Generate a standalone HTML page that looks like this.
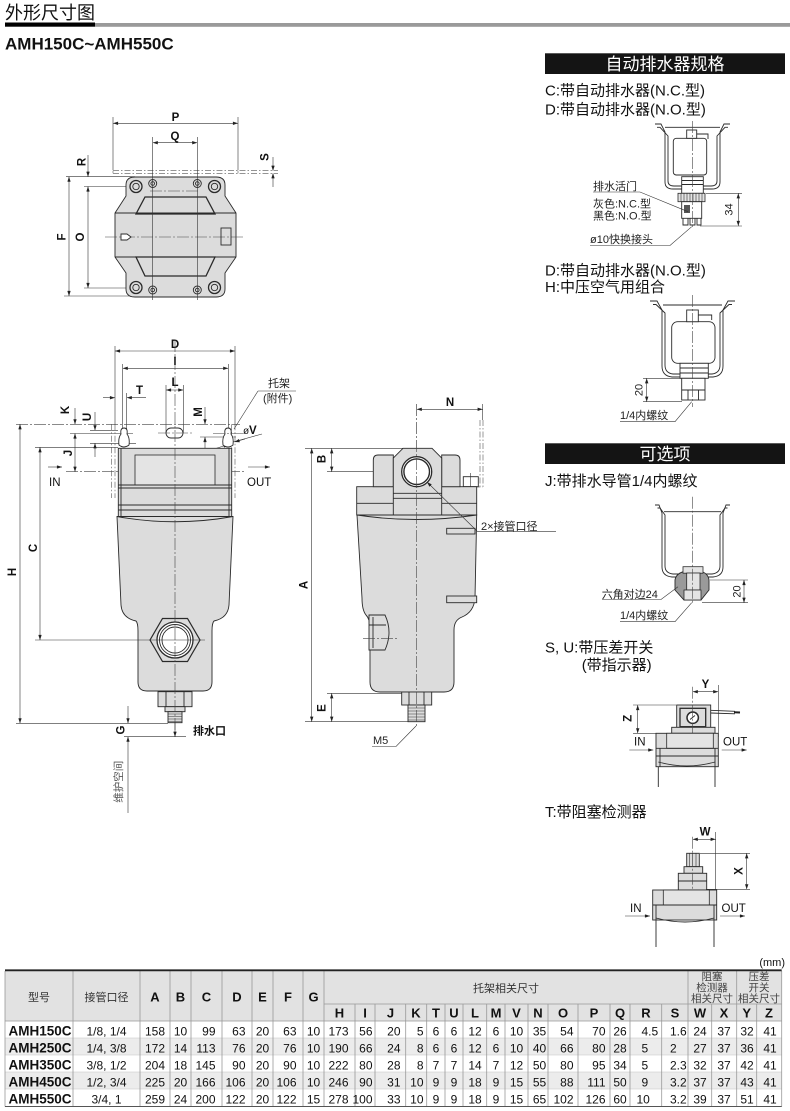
<!DOCTYPE html>
<html><head><meta charset="utf-8"><style>
html,body{margin:0;padding:0;background:#fff;}
body{width:790px;height:1111px;overflow:hidden;}
svg{display:block;}
</style></head><body>
<svg width="790" height="1111" viewBox="0 0 790 1111" xmlns="http://www.w3.org/2000/svg">
<defs>
<marker id="m" viewBox="0 0 6 4" refX="6" refY="2" markerWidth="5.5" markerHeight="3.4" orient="auto-start-reverse" markerUnits="userSpaceOnUse"><path d="M0,0L6,2L0,4z" fill="#222"/></marker>
</defs>
<style>
.g{fill:#dcdcdc;stroke:#2a2a2a;stroke-width:.9}
.g2{fill:#e4e4e4;stroke:#2a2a2a;stroke-width:.8}
.w{fill:#fff;stroke:#2a2a2a;stroke-width:.9}
.n{fill:none;stroke:#2a2a2a;stroke-width:.9}
.d{fill:none;stroke:#333;stroke-width:.6}
.a{fill:none;stroke:#333;stroke-width:.6;marker-start:url(#m);marker-end:url(#m)}
.e{fill:none;stroke:#333;stroke-width:.6;marker-end:url(#m)}
.c{fill:none;stroke:#444;stroke-width:.6;stroke-dasharray:12 2 2 2}
.ph{fill:none;stroke:#555;stroke-width:.6;stroke-dasharray:6 2 1.5 2}
text{font-family:"Liberation Sans","Noto Sans CJK SC",sans-serif;fill:#111}
.L{font-weight:bold;font-size:11.5px}
.s{font-size:11px;fill:#222}
.big{font-size:15px}
.tn{font-size:12px}
.tb{font-size:13px;font-weight:bold}
.th{font-size:11px;fill:#333}
.ts{font-size:10.5px;fill:#444}
</style>

<!-- Header -->
<text x="5" y="19" style="font-size:18px">外形尺寸图</text>
<rect x="5" y="22.5" width="90" height="4.2" fill="#000"/>
<rect x="95" y="23" width="695" height="3.8" fill="#9a9a9a"/>
<text x="5" y="49.5" style="font-size:17px;font-weight:bold">AMH150C~AMH550C</text>

<!-- ===== Top bracket view ===== -->
<line class="d" x1="113" y1="117" x2="113" y2="170"/>
<line class="d" x1="238" y1="117" x2="238" y2="170"/>
<line class="a" x1="113" y1="123.3" x2="238" y2="123.3"/>
<text class="L" x="175.5" y="121" text-anchor="middle">P</text>
<line class="a" x1="152.7" y1="142.7" x2="197.3" y2="142.7"/>
<text class="L" x="175" y="140" text-anchor="middle">Q</text>
<path class="ph" d="M113,170.7H278M113,173.3H278M113,170.7V173.3M238,170.7V173.3"/>
<line class="e" x1="273" y1="157" x2="273" y2="170.7"/>
<line class="e" x1="273" y1="187" x2="273" y2="173.3"/>
<text class="L" transform="translate(264.5,157) rotate(-90)" y="4" text-anchor="middle">S</text>
<line class="d" x1="66" y1="176.7" x2="135" y2="176.7"/>
<line class="d" x1="84" y1="186.5" x2="131" y2="186.5"/>
<line class="d" x1="84" y1="288" x2="131" y2="288"/>
<line class="d" x1="64" y1="296" x2="131" y2="296"/>
<line class="e" x1="88" y1="155" x2="88" y2="176.7"/>
<line class="a" x1="88" y1="186.5" x2="88" y2="288"/>
<line class="a" x1="69" y1="176.7" x2="69" y2="296"/>
<text class="L" transform="translate(81.5,162) rotate(-90)" y="4" text-anchor="middle">R</text>
<text class="L" transform="translate(80,237) rotate(-90)" y="4" text-anchor="middle">O</text>
<text class="L" transform="translate(61.5,237) rotate(-90)" y="4" text-anchor="middle">F</text>
<path class="g" d="M126,185 Q126,177 135,177 L216,177 Q225,177 225,185 L225,196 L236,213 L236,257 L225,273 L225,289 Q225,297 216,297 L135,297 Q126,297 126,289 L126,273 L115,257 L115,213 L126,196 Z"/>
<path class="n" d="M145,197 L206,197 L215,214 L136,214 Z" style="stroke-width:1.3"/>
<path class="n" d="M136,257 L215,257 L206,276 L145,276 Z" style="stroke-width:1.3"/>
<path class="n" d="M115,213H236M115,257H236"/>
<line class="c" x1="105" y1="237" x2="244" y2="237"/>
<line class="c" x1="150" y1="191" x2="200" y2="191"/>
<path class="w" d="M121,234 L127,234 L131,237 L127,240 L121,240 Z"/>
<rect class="n" x="221" y="228" width="10" height="17"/>
<g>
<circle class="g" cx="136" cy="186.5" r="6" style="stroke-width:1.3"/><circle class="n" cx="136" cy="186.5" r="3.2"/>
<circle class="g" cx="214.5" cy="186.5" r="6" style="stroke-width:1.3"/><circle class="n" cx="214.5" cy="186.5" r="3.2"/>
<circle class="g" cx="136" cy="287.5" r="6" style="stroke-width:1.3"/><circle class="n" cx="136" cy="287.5" r="3.2"/>
<circle class="g" cx="214.5" cy="287.5" r="6" style="stroke-width:1.3"/><circle class="n" cx="214.5" cy="287.5" r="3.2"/>
<circle class="g" cx="152.7" cy="183.5" r="4"/><circle class="n" cx="152.7" cy="183.5" r="1.8"/>
<circle class="g" cx="197.3" cy="183.5" r="4"/><circle class="n" cx="197.3" cy="183.5" r="1.8"/>
<circle class="g" cx="152.7" cy="290" r="4"/><circle class="n" cx="152.7" cy="290" r="1.8"/>
<circle class="g" cx="197.3" cy="290" r="4"/><circle class="n" cx="197.3" cy="290" r="1.8"/>
</g>
<line class="d" x1="152.7" y1="137" x2="152.7" y2="300"/>
<line class="d" x1="197.3" y1="137" x2="197.3" y2="300"/>

<!-- ===== Front view ===== -->
<line class="d" x1="115" y1="346" x2="115" y2="425"/>
<line class="d" x1="235" y1="346" x2="235" y2="425"/>
<line class="a" x1="115" y1="351" x2="235" y2="351"/>
<text class="L" x="175" y="348" text-anchor="middle">D</text>
<line class="d" x1="122.7" y1="364" x2="122.7" y2="440"/>
<line class="d" x1="228.3" y1="364" x2="228.3" y2="440"/>
<line class="a" x1="122.7" y1="368.3" x2="228.3" y2="368.3"/>
<text class="L" x="175" y="365" text-anchor="middle">I</text>
<line class="d" x1="166" y1="385" x2="166" y2="433"/>
<line class="d" x1="183.3" y1="385" x2="183.3" y2="433"/>
<line class="a" x1="166" y1="390" x2="183.3" y2="390"/>
<text class="L" x="175" y="386" text-anchor="middle">L</text>
<line class="e" x1="103" y1="397.7" x2="115" y2="397.7"/>
<line class="e" x1="146" y1="397.7" x2="126.7" y2="397.7"/>
<text class="L" x="139.5" y="394" text-anchor="middle">T</text>
<line class="d" x1="126.7" y1="393" x2="126.7" y2="430"/>

<line class="c" x1="16" y1="424.3" x2="240" y2="424.3"/>
<line class="a" x1="20" y1="424.3" x2="20" y2="723.3"/>
<text class="L" transform="translate(12,572) rotate(-90)" y="4" text-anchor="middle">H</text>
<line class="d" x1="35" y1="447.3" x2="118" y2="447.3"/>
<line class="a" x1="40" y1="447.3" x2="40" y2="640"/>
<text class="L" transform="translate(33,548) rotate(-90)" y="4" text-anchor="middle">C</text>
<line class="d" x1="70" y1="433.5" x2="133" y2="433.5"/>
<line class="e" x1="75" y1="408" x2="75" y2="424.3"/>
<line class="a" x1="75" y1="433.5" x2="75" y2="471.7"/>
<text class="L" transform="translate(65,410) rotate(-90)" y="4" text-anchor="middle">K</text>
<text class="L" transform="translate(68,453) rotate(-90)" y="4" text-anchor="middle">J</text>
<line class="d" x1="90" y1="430.3" x2="118" y2="430.3"/>
<line class="d" x1="90" y1="443.3" x2="136" y2="443.3"/>
<line class="e" x1="95" y1="412" x2="95" y2="430.3"/>
<line class="e" x1="95" y1="457" x2="95" y2="443.3"/>
<text class="L" transform="translate(87,417) rotate(-90)" y="4" text-anchor="middle">U</text>
<line class="e" x1="205" y1="407" x2="205" y2="424.3"/>
<line class="e" x1="205" y1="455" x2="205" y2="437"/>
<line class="d" x1="200" y1="437" x2="236" y2="437"/>
<text class="L" transform="translate(198,412) rotate(-90)" y="4" text-anchor="middle">M</text>
<text x="243" y="434" style="font-size:10px">ø</text><text class="L" x="249" y="434">V</text>
<line class="d" x1="262" y1="434" x2="224" y2="444.5"/>
<line class="e" x1="214" y1="449" x2="228.5" y2="444.5"/>
<line class="e" x1="245" y1="439" x2="234.5" y2="442"/>
<text class="s" x="268" y="387">托架</text>
<text class="s" x="263" y="402">(附件)</text>
<line class="d" x1="258" y1="391" x2="296" y2="391"/>
<line class="d" x1="258" y1="391" x2="234" y2="429"/>
<line class="c" x1="66" y1="471.7" x2="244" y2="471.7"/>
<line class="e" x1="48" y1="467" x2="62" y2="467"/>
<text x="49" y="486" style="font-size:11.5px">IN</text>
<line class="e" x1="248" y1="467" x2="270" y2="467"/>
<text x="247" y="486" style="font-size:11.5px">OUT</text>

<!-- bracket phantom -->
<path class="ph" d="M111.7,424.3V498M115,424.3V498M231.7,424.3V498M235,424.3V498"/>
<path class="w" d="M119,445 Q118,438 121,434 Q120,428 124,428 Q128,428 127,434 Q130,438 129,445 Q124,449 119,445 Z"/>
<path class="w" d="M223,445 Q222,438 225,434 Q224,428 228,428 Q232,428 231,434 Q234,438 233,445 Q228,449 223,445 Z"/>
<rect class="w" x="166" y="428" width="17" height="10" rx="5"/>
<line class="c" x1="158" y1="433" x2="192" y2="433"/>
<line class="c" x1="213" y1="433.5" x2="243" y2="433.5"/>
<!-- head -->
<rect class="g" x="118.3" y="448.3" width="113.4" height="68.4"/>
<rect class="g2" x="135" y="455" width="80" height="30"/>
<path class="n" d="M118.3,485H231.7M118.3,488H231.7M118.3,505H231.7M118.3,510H231.7M121,448.3V516.7M229,448.3V516.7"/>
<path class="g" d="M117,516.5 L233,516.5 L229,605 Q228,618 214,621 Q212,623 212,631 L212,682 Q212,691 203,691 L147,691 Q138,691 138,682 L138,631 Q138,623 136,621 Q122,618 121,605 Z"/>
<path class="n" d="M117,516.5 Q175,527 233,516.5"/>
<polygon class="g" points="150,640 162.5,618.5 187.5,618.5 200,640 187.5,661.5 162.5,661.5" style="stroke-width:1.2"/>
<circle class="w" cx="175" cy="640" r="18" style="stroke-width:1.3"/>
<circle class="n" cx="175" cy="640" r="15.5"/>
<circle class="n" cx="175" cy="640" r="13"/>
<rect class="g" x="158" y="691.7" width="34" height="15"/>
<path class="n" d="M166,691.7V706.7M184,691.7V706.7"/>
<rect class="g" x="165" y="706.7" width="20" height="5"/>
<rect class="g" x="168" y="711.7" width="14" height="11"/>
<path class="d" d="M168,714H182M168,716.5H182M168,719H182M168,721.5H182"/>
<line class="c" x1="175" y1="340" x2="175" y2="737"/>
<line class="d" x1="35" y1="640" x2="205" y2="640"/>
<line class="d" x1="16" y1="723.3" x2="168" y2="723.3"/>
<line class="d" x1="124" y1="736.7" x2="186" y2="736.7"/>
<line class="e" x1="128" y1="706" x2="128" y2="723.3"/>
<line class="e" x1="128" y1="813" x2="128" y2="736.7"/>
<text class="L" transform="translate(120.5,730) rotate(-90)" y="4" text-anchor="middle">G</text>
<line class="e" x1="175" y1="722" x2="175" y2="736.7"/>
<text x="193" y="734.5" style="font-size:11px;font-weight:bold">排水口</text>
<text transform="translate(118,781.7) rotate(-90)" y="4" text-anchor="middle" style="font-size:10.5px;fill:#555">维护空间</text>

<!-- ===== Side view ===== -->
<line class="c" x1="416.7" y1="404" x2="416.7" y2="728"/>
<line class="a" x1="416.7" y1="409.3" x2="482.7" y2="409.3"/>
<line class="d" x1="482.7" y1="404" x2="482.7" y2="420"/>
<text class="L" x="450" y="406" text-anchor="middle">N</text>
<path class="ph" d="M480,420V487M483,420V487M463,487H483"/>
<rect class="n" x="463.3" y="476.7" width="15" height="10"/>
<line class="d" x1="470.5" y1="473" x2="470.5" y2="491"/>
<line class="d" x1="305" y1="448.3" x2="405" y2="448.3"/>
<line class="d" x1="327" y1="471.7" x2="436" y2="471.7"/>
<line class="a" x1="311.7" y1="448.3" x2="311.7" y2="721.7"/>
<text class="L" transform="translate(303.5,585) rotate(-90)" y="4" text-anchor="middle">A</text>
<line class="a" x1="331.7" y1="448.3" x2="331.7" y2="471.7"/>
<text class="L" transform="translate(321.5,459) rotate(-90)" y="4" text-anchor="middle">B</text>
<line class="d" x1="327" y1="693.3" x2="402" y2="693.3"/>
<line class="d" x1="305" y1="721.7" x2="410" y2="721.7"/>
<line class="a" x1="331.7" y1="693.3" x2="331.7" y2="721.7"/>
<text class="L" transform="translate(321.5,708) rotate(-90)" y="4" text-anchor="middle">E</text>
<!-- body -->
<rect class="g" x="356.7" y="486.7" width="120" height="28.3"/>
<line class="n" x1="356.7" y1="503.3" x2="476.7" y2="503.3"/>
<path class="g" d="M373.3,486.7 L373.3,460 Q373.3,455 378,455 L393.3,455 L393.3,486.7 Z"/>
<path class="g" d="M441.7,455 L455,455 Q460,455 460,460 L460,486.7 L441.7,486.7 Z"/>
<path class="g" d="M393.3,515 L393.3,458 L403,448.3 L432,448.3 L441.7,458 L441.7,515"/>
<path class="n" d="M393.3,493.3H441.7M393.3,498.3H441.7"/>
<circle class="w" cx="416.7" cy="471.7" r="15" style="stroke-width:1.3"/>
<circle class="n" cx="416.7" cy="471.7" r="12.8" style="stroke-width:1.4"/>
<path class="g" d="M357,515 L476.7,515 L475,598 Q474,612 462,617 Q454,620 454,630 L454,682 Q454,692 444,692 L380,692 Q370,692 370,682 L370,628 Q370,619 366,615 Q362,610 362,598 Z"/>
<path class="n" d="M357,515 Q416,524 476.7,515"/>
<path class="g" d="M369,615 L385,615 Q393,632 385,650 L369,650 Z"/>
<path class="n" d="M373,617V648M369,625H386"/>
<line class="c" x1="363" y1="638.3" x2="398" y2="638.3"/>
<rect class="g" x="446.7" y="528.3" width="28.3" height="5.7"/>
<rect class="g" x="446.7" y="596" width="30" height="6.7"/>
<rect class="g" x="401.7" y="692" width="30" height="13"/>
<path class="n" d="M409,692V705M424,692V705"/>
<rect class="g" x="408" y="705" width="17" height="16.7"/>
<path class="d" d="M408,708H425M408,711H425M408,714H425M408,717H425M408,720H425"/>
<line class="c" x1="416.7" y1="404" x2="416.7" y2="728"/>
<text class="s" x="373" y="744">M5</text>
<path class="d" d="M372,746.5H396L416,726"/>
<line class="e" x1="477" y1="531" x2="427" y2="482"/>
<line class="d" x1="477" y1="531.7" x2="556" y2="531.7"/>
<text class="s" x="481" y="530">2×接管口径</text>

<!-- ===== Right panel ===== -->
<rect x="545" y="53.3" width="240" height="20.7" fill="#141414"/>
<text x="665" y="70" text-anchor="middle" style="font-size:17px;fill:#fff">自动排水器规格</text>
<text class="big" x="545" y="95.5">C:带自动排水器(N.C.型)</text>
<text class="big" x="545" y="114.5">D:带自动排水器(N.O.型)</text>
<path class="n" d="M655,124 L661,124 L665,132 L665,182 Q665,189 673,189 L712,189 Q720,189 720,182 L720,132 L724,124 L730,124"/>
<path class="n" d="M657,127.3 L660,127.3 L668,136 L668,181 Q668,186 674,186 L711,186 Q717,186 717,181 L717,136 L725,127.3 L728,127.3"/>
<line class="n" x1="665" y1="127.3" x2="720" y2="127.3"/>
<rect class="w" x="673.3" y="138.3" width="33.4" height="36.7" rx="3"/>
<rect class="w" x="686.7" y="130" width="10" height="8.3"/>
<path class="n" d="M696.7,134H708V139"/>
<rect class="w" x="681.7" y="176.7" width="21.6" height="16.6"/>
<path class="n" d="M681.7,180.5H703.3M681.7,184.5H703.3"/>
<rect class="g2" x="678" y="193.3" width="27" height="8.4"/>
<path class="d" d="M681,193.3V201.7M684,193.3V201.7M687,193.3V201.7M690,193.3V201.7M693,193.3V201.7M696,193.3V201.7M699,193.3V201.7M702,193.3V201.7"/>
<rect class="w" x="681.7" y="201.7" width="20" height="16.6"/>
<rect x="684" y="205" width="6" height="8" fill="#555"/>
<path class="n" d="M683,218.3V225H688V218.3M690,218.3V225H695V218.3M697,218.3V225H701V218.3"/>
<line class="c" x1="692.7" y1="121" x2="692.7" y2="229"/>
<line class="d" x1="706" y1="193.3" x2="742" y2="193.3"/>
<line class="d" x1="700" y1="226" x2="742" y2="226"/>
<line class="a" x1="738.3" y1="193.3" x2="738.3" y2="226"/>
<text class="s" transform="translate(728.5,209.5) rotate(-90)" y="4" text-anchor="middle">34</text>
<text class="s" x="593" y="190">排水活门</text>
<path class="d" d="M593,192H640L688,211.7"/>
<text class="s" x="593" y="207.5">灰色:N.C.型</text>
<text class="s" x="593" y="219.5">黑色:N.O.型</text>
<text class="s" x="590" y="243">ø10快换接头</text>
<path class="d" d="M590,245.5H670L691.7,226.7"/>

<text class="big" x="545" y="275.5">D:带自动排水器(N.O.型)</text>
<text class="big" x="545" y="292">H:中压空气用组合</text>
<path class="n" d="M650,301 L657,301 L662,310 L662,366 Q662,376 672,377 L713,377 Q723,376 723,366 L723,310 L728,301 L735,301"/>
<path class="n" d="M653,304.5 L656,304.5 L665,313 L665,365 Q665,373 673,374 L712,374 Q720,373 720,365 L720,313 L729,304.5 L732,304.5"/>
<line class="n" x1="663" y1="305" x2="722" y2="305"/>
<rect class="w" x="671.7" y="321.7" width="43.3" height="41.6" rx="6"/>
<rect class="w" x="686.7" y="310" width="11.6" height="11.7"/>
<path class="n" d="M698.3,315H711.7V320"/>
<rect class="w" x="680" y="363.3" width="28.3" height="15"/>
<path class="n" d="M680,368H708.3M680,373H708.3"/>
<rect class="w" x="681.7" y="378.3" width="23.3" height="21.7"/>
<path class="n" d="M681.7,390H705M688,390V400M698.5,390V400"/>
<line class="c" x1="692.7" y1="295" x2="692.7" y2="407"/>
<line class="d" x1="643" y1="378.3" x2="682" y2="378.3"/>
<line class="d" x1="643" y1="401.7" x2="682" y2="401.7"/>
<line class="a" x1="646.7" y1="378.3" x2="646.7" y2="401.7"/>
<text class="s" transform="translate(638.5,390) rotate(-90)" y="4" text-anchor="middle">20</text>
<text class="s" x="620" y="419">1/4内螺纹</text>
<path class="d" d="M620,421.7H675L691.7,401.7"/>

<rect x="545" y="443.3" width="240" height="20.7" fill="#141414"/>
<text x="665" y="460" text-anchor="middle" style="font-size:17px;fill:#fff">可选项</text>
<text class="big" x="545" y="486">J:带排水导管1/4内螺纹</text>
<path class="n" d="M655,505 L659,505 L662,513 L662,567 Q662,576 672,577 L713,577 Q723,576 723,567 L723,513 L726,505 L730,505"/>
<path class="n" d="M657.5,508 L660,508 L665,515 L665,566 Q665,573 673,574 L712,574 Q720,573 720,566 L720,515 L725,508 L727.5,508"/>
<line class="n" x1="664" y1="511.7" x2="721" y2="511.7"/>
<path d="M675,580 Q676,573 686,571 L700,571 Q708,573 709,580 L709,590 L701,600 L684,600 L675,590 Z" fill="#9a9a9a" stroke="#2a2a2a" stroke-width=".9"/>
<rect class="g2" x="683" y="566.7" width="20" height="6.5"/>
<rect class="g2" x="686.7" y="573" width="13.3" height="17"/>
<rect class="g2" x="684" y="590" width="17" height="10"/>
<line class="c" x1="692.7" y1="496.7" x2="692.7" y2="604"/>
<line class="d" x1="710" y1="580" x2="748" y2="580"/>
<line class="d" x1="702" y1="602.7" x2="748" y2="602.7"/>
<line class="a" x1="744" y1="580" x2="744" y2="602.7"/>
<text class="s" transform="translate(736.5,591.5) rotate(-90)" y="4" text-anchor="middle">20</text>
<text class="s" x="601.7" y="598">六角对边24</text>
<path class="d" d="M602,599.5H661L678,586.7"/>
<text class="s" x="620" y="619">1/4内螺纹</text>
<path class="d" d="M620,621.7H675L691.7,602.7"/>

<text class="big" x="545" y="652.5">S, U:带压差开关</text>
<text class="big" x="581.7" y="670">(带指示器)</text>
<line class="a" x1="692.7" y1="691.7" x2="718.3" y2="691.7"/>
<text class="L" x="705.5" y="688" text-anchor="middle">Y</text>
<line class="d" x1="718.3" y1="685" x2="718.3" y2="737"/>
<rect class="g" x="676.7" y="705" width="34" height="23.3"/>
<rect class="g" x="680" y="708.3" width="25.7" height="18.4" style="stroke-width:1.3"/>
<circle class="w" cx="692.7" cy="717.7" r="5.7" style="stroke-width:1.5"/>
<line class="n" x1="690" y1="719.5" x2="695" y2="715.5"/>
<rect class="g" x="671.7" y="727.3" width="43.3" height="6"/>
<path class="n" d="M710.7,710.3L735,711.3M710.7,713L735,713.8"/>
<line x1="734" y1="712.3" x2="740" y2="712.5" stroke="#222" stroke-width="2"/>
<line class="c" x1="692.7" y1="686.7" x2="692.7" y2="740"/>
<line class="d" x1="633" y1="705" x2="676" y2="705"/>
<line class="d" x1="633" y1="733.3" x2="672" y2="733.3"/>
<line class="a" x1="637.7" y1="705" x2="637.7" y2="733.3"/>
<text class="L" transform="translate(627.5,718.3) rotate(-90)" y="4" text-anchor="middle">Z</text>
<rect class="g" x="656" y="733.3" width="62.3" height="33.4"/>
<rect class="g2" x="666.7" y="733.3" width="46.6" height="15"/>
<path class="n" d="M656,748.3H718.3M656,756H718.3M660,748.3V766.7M715,748.3V766.7"/>
<path class="n" d="M658.3,762 Q687,770 715,762"/>
<path class="n" d="M658.3,766.7V787M715,766.7V787"/>
<text x="634" y="745.5" style="font-size:11.5px">IN</text>
<line class="e" x1="629.3" y1="750" x2="653.3" y2="750"/>
<text x="723" y="745.5" style="font-size:11.5px">OUT</text>
<line class="e" x1="721.7" y1="750" x2="746.7" y2="750"/>

<text class="big" x="545" y="817">T:带阻塞检测器</text>
<line class="a" x1="692.7" y1="839.3" x2="715.7" y2="839.3"/>
<text class="L" x="705" y="835.5" text-anchor="middle">W</text>
<line class="d" x1="715.7" y1="832" x2="715.7" y2="891.7"/>
<rect class="g" x="686.7" y="853.3" width="12.6" height="13.4"/>
<path class="d" d="M689.5,853.3V866.7M692.7,853.3V866.7M696,853.3V866.7"/>
<rect class="g" x="684" y="866.7" width="18.7" height="6.6"/>
<rect class="g" x="678.3" y="873.3" width="28.4" height="16.7"/>
<line class="n" x1="678.3" y1="881" x2="706.7" y2="881"/>
<line class="c" x1="692.7" y1="836.7" x2="692.7" y2="897"/>
<line class="d" x1="700" y1="853.3" x2="750" y2="853.3"/>
<line class="d" x1="706" y1="889.3" x2="750" y2="889.3"/>
<line class="a" x1="746.7" y1="853.3" x2="746.7" y2="889.3"/>
<text class="L" transform="translate(738.3,871) rotate(-90)" y="4" text-anchor="middle">X</text>
<rect class="g" x="652.7" y="890" width="64" height="30"/>
<rect class="g2" x="663.3" y="890" width="46" height="15"/>
<path class="n" d="M652.7,905H716.7M656,905V920M714,905V920"/>
<path class="n" d="M656,918 Q685,926 714,918"/>
<path class="n" d="M656,920V947M714,920V947"/>
<text x="630" y="912" style="font-size:11.5px">IN</text>
<line class="e" x1="625" y1="916" x2="650" y2="916"/>
<text x="721.5" y="912" style="font-size:11.5px">OUT</text>
<line class="e" x1="720" y1="916" x2="745" y2="916"/>

<!-- ===== Table ===== -->
<text x="785" y="966" text-anchor="end" style="font-size:11px">(mm)</text>
<rect x="5" y="971" width="776.7" height="50" fill="#e2e2e2"/>
<rect x="5" y="1038" width="776.7" height="17" fill="#ececec"/>
<rect x="5" y="1072" width="776.7" height="17" fill="#ececec"/>
<g stroke="#c4c4c4" stroke-width=".6">
<line x1="5" y1="1038" x2="781.7" y2="1038"/>
<line x1="5" y1="1055" x2="781.7" y2="1055"/>
<line x1="5" y1="1072" x2="781.7" y2="1072"/>
<line x1="5" y1="1089" x2="781.7" y2="1089"/>
</g>
<g stroke="#999" stroke-width=".8">
<line x1="324" y1="1004" x2="781.7" y2="1004"/>
<line x1="5" y1="1021" x2="781.7" y2="1021"/>
<line x1="5" y1="971" x2="5" y2="1106.5"/>
<line x1="781.7" y1="971" x2="781.7" y2="1106.5"/>
<line x1="73" y1="971" x2="73" y2="1106.5"/>
<line x1="140" y1="971" x2="140" y2="1106.5"/>
<line x1="170" y1="971" x2="170" y2="1106.5"/>
<line x1="191" y1="971" x2="191" y2="1106.5"/>
<line x1="222" y1="971" x2="222" y2="1106.5"/>
<line x1="252" y1="971" x2="252" y2="1106.5"/>
<line x1="273" y1="971" x2="273" y2="1106.5"/>
<line x1="303" y1="971" x2="303" y2="1106.5"/>
<line x1="324" y1="971" x2="324" y2="1106.5"/>
<line x1="688" y1="971" x2="688" y2="1106.5"/>
<line x1="736.7" y1="971" x2="736.7" y2="1106.5"/>
<line x1="355" y1="1004" x2="355" y2="1106.5"/>
<line x1="375" y1="1004" x2="375" y2="1106.5"/>
<line x1="405.7" y1="1004" x2="405.7" y2="1106.5"/>
<line x1="426.7" y1="1004" x2="426.7" y2="1106.5"/>
<line x1="445" y1="1004" x2="445" y2="1106.5"/>
<line x1="463" y1="1004" x2="463" y2="1106.5"/>
<line x1="486.7" y1="1004" x2="486.7" y2="1106.5"/>
<line x1="505" y1="1004" x2="505" y2="1106.5"/>
<line x1="528" y1="1004" x2="528" y2="1106.5"/>
<line x1="548" y1="1004" x2="548" y2="1106.5"/>
<line x1="578" y1="1004" x2="578" y2="1106.5"/>
<line x1="610" y1="1004" x2="610" y2="1106.5"/>
<line x1="630" y1="1004" x2="630" y2="1106.5"/>
<line x1="661.7" y1="1004" x2="661.7" y2="1106.5"/>
<line x1="711.7" y1="1004" x2="711.7" y2="1106.5"/>
<line x1="756.7" y1="1004" x2="756.7" y2="1106.5"/>
</g>
<line x1="5" y1="970.3" x2="781.7" y2="970.3" stroke="#222" stroke-width="1.8"/>
<line x1="5" y1="1106.5" x2="781.7" y2="1106.5" stroke="#555" stroke-width="1"/>

<g text-anchor="middle">
<text class="th" x="39" y="1001">型号</text>
<text class="th" x="106.5" y="1001">接管口径</text>
<text class="tb" x="155" y="1001.5">A</text>
<text class="tb" x="180.5" y="1001.5">B</text>
<text class="tb" x="206.5" y="1001.5">C</text>
<text class="tb" x="237" y="1001.5">D</text>
<text class="tb" x="262.5" y="1001.5">E</text>
<text class="tb" x="288" y="1001.5">F</text>
<text class="tb" x="313.5" y="1001.5">G</text>
<text class="th" x="506" y="992">托架相关尺寸</text>
<text class="ts" x="712" y="980">阻塞</text>
<text class="ts" x="712" y="991">检测器</text>
<text class="ts" x="712" y="1002">相关尺寸</text>
<text class="ts" x="759" y="980">压差</text>
<text class="ts" x="759" y="991">开关</text>
<text class="ts" x="759" y="1002">相关尺寸</text>
</g>
<g text-anchor="middle" class="tb">
<text class="tb" x="339.5" y="1017.5">H</text>
<text class="tb" x="365" y="1017.5">I</text>
<text class="tb" x="390.5" y="1017.5">J</text>
<text class="tb" x="416" y="1017.5">K</text>
<text class="tb" x="436" y="1017.5">T</text>
<text class="tb" x="454" y="1017.5">U</text>
<text class="tb" x="475" y="1017.5">L</text>
<text class="tb" x="496" y="1017.5">M</text>
<text class="tb" x="516.5" y="1017.5">V</text>
<text class="tb" x="538" y="1017.5">N</text>
<text class="tb" x="563" y="1017.5">O</text>
<text class="tb" x="594" y="1017.5">P</text>
<text class="tb" x="620" y="1017.5">Q</text>
<text class="tb" x="646" y="1017.5">R</text>
<text class="tb" x="675" y="1017.5">S</text>
<text class="tb" x="700" y="1017.5">W</text>
<text class="tb" x="724" y="1017.5">X</text>
<text class="tb" x="746.7" y="1017.5">Y</text>
<text class="tb" x="769" y="1017.5">Z</text>
</g>

<!-- data rows -->
<g class="tn">
<text x="40" y="1035.5" text-anchor="middle" style="font-size:13.5px;font-weight:bold">AMH150C</text>
<text x="40" y="1052.5" text-anchor="middle" style="font-size:13.5px;font-weight:bold">AMH250C</text>
<text x="40" y="1069.5" text-anchor="middle" style="font-size:13.5px;font-weight:bold">AMH350C</text>
<text x="40" y="1086.5" text-anchor="middle" style="font-size:13.5px;font-weight:bold">AMH450C</text>
<text x="40" y="1103.5" text-anchor="middle" style="font-size:13.5px;font-weight:bold">AMH550C</text>
</g>
<g class="tn" text-anchor="middle" style="font-size:12px">
<text class="tn" x="106.5" y="1035.5">1/8, 1/4</text>
<text class="tn" x="106.5" y="1052.5">1/4, 3/8</text>
<text class="tn" x="106.5" y="1069.5">3/8, 1/2</text>
<text class="tn" x="106.5" y="1086.5">1/2, 3/4</text>
<text class="tn" x="106.5" y="1103.5">3/4, 1</text>
</g>

<!-- Row 1 -->
<g class="tn">
<g text-anchor="middle">
<text class="tn" x="155" y="1035.5">158</text><text class="tn" x="180.5" y="1035.5">10</text><text class="tn" x="262.5" y="1035.5">20</text><text class="tn" x="313.5" y="1035.5">10</text><text class="tn" x="338.5" y="1035.5">173</text><text class="tn" x="436" y="1035.5">6</text><text class="tn" x="454" y="1035.5">6</text><text class="tn" x="475" y="1035.5">12</text><text class="tn" x="496" y="1035.5">6</text><text class="tn" x="516.5" y="1035.5">10</text><text class="tn" x="539.5" y="1035.5">35</text><text class="tn" x="620" y="1035.5">26</text><text class="tn" x="700" y="1035.5">24</text><text class="tn" x="724" y="1035.5">37</text><text class="tn" x="747" y="1035.5">32</text><text class="tn" x="770" y="1035.5">41</text>
</g>
<g text-anchor="end">
<text class="tn" x="215.5" y="1035.5">99</text><text class="tn" x="245.5" y="1035.5">63</text><text class="tn" x="296.5" y="1035.5">63</text><text class="tn" x="372.5" y="1035.5">56</text><text class="tn" x="400.5" y="1035.5">20</text><text class="tn" x="423.5" y="1035.5">5</text><text class="tn" x="573.5" y="1035.5">54</text><text class="tn" x="605.5" y="1035.5">70</text>
</g>
<text class="tn" x="641.5" y="1035.5">4.5</text><text class="tn" x="670" y="1035.5">1.6</text>
</g>
<!-- Row 2 -->
<g>
<g text-anchor="middle">
<text class="tn" x="155" y="1052.5">172</text><text class="tn" x="180.5" y="1052.5">14</text><text class="tn" x="262.5" y="1052.5">20</text><text class="tn" x="313.5" y="1052.5">10</text><text class="tn" x="338.5" y="1052.5">190</text><text class="tn" x="436" y="1052.5">6</text><text class="tn" x="454" y="1052.5">6</text><text class="tn" x="475" y="1052.5">12</text><text class="tn" x="496" y="1052.5">6</text><text class="tn" x="516.5" y="1052.5">10</text><text class="tn" x="539.5" y="1052.5">40</text><text class="tn" x="620" y="1052.5">28</text><text class="tn" x="700" y="1052.5">27</text><text class="tn" x="724" y="1052.5">37</text><text class="tn" x="747" y="1052.5">36</text><text class="tn" x="770" y="1052.5">41</text>
</g>
<g text-anchor="end">
<text class="tn" x="215.5" y="1052.5">113</text><text class="tn" x="245.5" y="1052.5">76</text><text class="tn" x="296.5" y="1052.5">76</text><text class="tn" x="372.5" y="1052.5">66</text><text class="tn" x="400.5" y="1052.5">24</text><text class="tn" x="423.5" y="1052.5">8</text><text class="tn" x="573.5" y="1052.5">66</text><text class="tn" x="605.5" y="1052.5">80</text>
</g>
<text class="tn" x="641.5" y="1052.5">5</text><text class="tn" x="670" y="1052.5">2</text>
</g>
<!-- Row 3 -->
<g>
<g text-anchor="middle">
<text class="tn" x="155" y="1069.5">204</text><text class="tn" x="180.5" y="1069.5">18</text><text class="tn" x="262.5" y="1069.5">20</text><text class="tn" x="313.5" y="1069.5">10</text><text class="tn" x="338.5" y="1069.5">222</text><text class="tn" x="436" y="1069.5">7</text><text class="tn" x="454" y="1069.5">7</text><text class="tn" x="475" y="1069.5">14</text><text class="tn" x="496" y="1069.5">7</text><text class="tn" x="516.5" y="1069.5">12</text><text class="tn" x="539.5" y="1069.5">50</text><text class="tn" x="620" y="1069.5">34</text><text class="tn" x="700" y="1069.5">32</text><text class="tn" x="724" y="1069.5">37</text><text class="tn" x="747" y="1069.5">42</text><text class="tn" x="770" y="1069.5">41</text>
</g>
<g text-anchor="end">
<text class="tn" x="215.5" y="1069.5">145</text><text class="tn" x="245.5" y="1069.5">90</text><text class="tn" x="296.5" y="1069.5">90</text><text class="tn" x="372.5" y="1069.5">80</text><text class="tn" x="400.5" y="1069.5">28</text><text class="tn" x="423.5" y="1069.5">8</text><text class="tn" x="573.5" y="1069.5">80</text><text class="tn" x="605.5" y="1069.5">95</text>
</g>
<text class="tn" x="641.5" y="1069.5">5</text><text class="tn" x="670" y="1069.5">2.3</text>
</g>
<!-- Row 4 -->
<g>
<g text-anchor="middle">
<text class="tn" x="155" y="1086.5">225</text><text class="tn" x="180.5" y="1086.5">20</text><text class="tn" x="262.5" y="1086.5">20</text><text class="tn" x="313.5" y="1086.5">10</text><text class="tn" x="338.5" y="1086.5">246</text><text class="tn" x="436" y="1086.5">9</text><text class="tn" x="454" y="1086.5">9</text><text class="tn" x="475" y="1086.5">18</text><text class="tn" x="496" y="1086.5">9</text><text class="tn" x="516.5" y="1086.5">15</text><text class="tn" x="539.5" y="1086.5">55</text><text class="tn" x="620" y="1086.5">50</text><text class="tn" x="700" y="1086.5">37</text><text class="tn" x="724" y="1086.5">37</text><text class="tn" x="747" y="1086.5">43</text><text class="tn" x="770" y="1086.5">41</text>
</g>
<g text-anchor="end">
<text class="tn" x="215.5" y="1086.5">166</text><text class="tn" x="245.5" y="1086.5">106</text><text class="tn" x="296.5" y="1086.5">106</text><text class="tn" x="372.5" y="1086.5">90</text><text class="tn" x="400.5" y="1086.5">31</text><text class="tn" x="423.5" y="1086.5">10</text><text class="tn" x="573.5" y="1086.5">88</text><text class="tn" x="605.5" y="1086.5">111</text>
</g>
<text class="tn" x="641.5" y="1086.5">9</text><text class="tn" x="670" y="1086.5">3.2</text>
</g>
<!-- Row 5 -->
<g>
<g text-anchor="middle">
<text class="tn" x="155" y="1103.5">259</text><text class="tn" x="180.5" y="1103.5">24</text><text class="tn" x="262.5" y="1103.5">20</text><text class="tn" x="313.5" y="1103.5">15</text><text class="tn" x="338.5" y="1103.5">278</text><text class="tn" x="436" y="1103.5">9</text><text class="tn" x="454" y="1103.5">9</text><text class="tn" x="475" y="1103.5">18</text><text class="tn" x="496" y="1103.5">9</text><text class="tn" x="516.5" y="1103.5">15</text><text class="tn" x="539.5" y="1103.5">65</text><text class="tn" x="620" y="1103.5">60</text><text class="tn" x="700" y="1103.5">39</text><text class="tn" x="724" y="1103.5">37</text><text class="tn" x="747" y="1103.5">51</text><text class="tn" x="770" y="1103.5">41</text>
</g>
<g text-anchor="end">
<text class="tn" x="215.5" y="1103.5">200</text><text class="tn" x="245.5" y="1103.5">122</text><text class="tn" x="296.5" y="1103.5">122</text><text class="tn" x="372.5" y="1103.5">100</text><text class="tn" x="400.5" y="1103.5">33</text><text class="tn" x="423.5" y="1103.5">10</text><text class="tn" x="573.5" y="1103.5">102</text><text class="tn" x="605.5" y="1103.5">126</text>
</g>
<text class="tn" x="636.5" y="1103.5">10</text><text class="tn" x="670" y="1103.5">3.2</text>
</g>
</svg>
</body></html>
